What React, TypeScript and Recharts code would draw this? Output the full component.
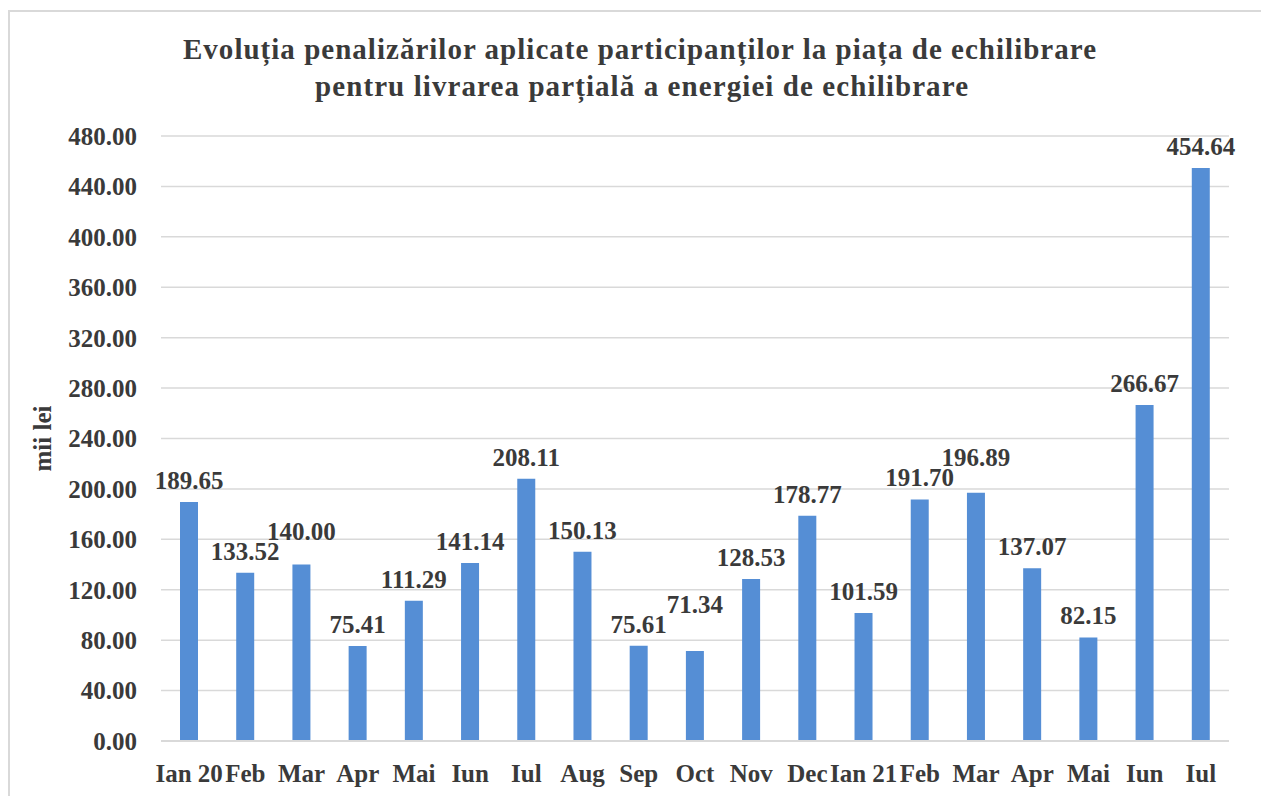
import { BarChart, Bar, XAxis, YAxis, CartesianGrid, LabelList, Label } from 'recharts';

const months = [
  'Ian 20', 'Feb', 'Mar', 'Apr', 'Mai', 'Iun', 'Iul', 'Aug', 'Sep', 'Oct',
  'Nov', 'Dec', 'Ian 21', 'Feb', 'Mar', 'Apr', 'Mai', 'Iun', 'Iul',
];
const penalties = [
  189.65, 133.52, 140.0, 75.41, 111.29, 141.14, 208.11, 150.13, 75.61, 71.34,
  128.53, 178.77, 101.59, 191.7, 196.89, 137.07, 82.15, 266.67, 454.64,
];
const yTicks = [0, 40, 80, 120, 160, 200, 240, 280, 320, 360, 400, 440, 480];
const titleLines = [
  'Evoluția penalizărilor  aplicate participanților  la piața de echilibrare',
  'pentru livrarea parțială  a energiei de echilibrare',
];

const data = months.map((m, i) => ({ key: i, month: m, value: penalties[i] }));

const FONT = '"Liberation Serif", "Times New Roman", serif';
const TEXT = '#3a3a3a';
const LABEL_SIZE = 25;

function YTitle(props: any) {
  const vb = props.viewBox || { y: 0, height: 0 };
  const cy = vb.y + vb.height / 2;
  return (
    <text
      x={42}
      y={cy}
      transform={`rotate(-90, 42, ${cy})`}
      textAnchor="middle"
      dominantBaseline="central"
      fontFamily={FONT}
      fontWeight="bold"
      fontSize={25}
      fill={TEXT}
    >
      mii lei
    </text>
  );
}

// simple collision avoidance: labels are drawn in order, a label that
// would overlap the previous one is pushed up above it (like Excel does)
let placed: { left: number; right: number; top: number; base: number }[] = [];

function ValueLabel(props: any) {
  const { x, y, width, value, index } = props;
  if (index === 0) placed = [];
  const text = Number(value).toFixed(2);
  const cx = Number(x) + Number(width) / 2;
  const w = text.length * 0.47 * LABEL_SIZE;
  let base = Number(y) - 13;
  const prev = placed[index - 1];
  if (prev) {
    const left = cx - w / 2;
    const top = base - 0.68 * LABEL_SIZE;
    if (left < prev.right && base > prev.top && top < prev.base) {
      base = prev.top - 3;
    }
  }
  placed[index] = {
    left: cx - w / 2,
    right: cx + w / 2,
    top: base - 0.68 * LABEL_SIZE,
    base,
  };
  return (
    <text
      x={cx}
      y={base}
      textAnchor="middle"
      fontFamily={FONT}
      fontWeight="bold"
      fontSize={LABEL_SIZE}
      fill={TEXT}
    >
      {text}
    </text>
  );
}

export default function App() {
  return (
    <div
      style={{
        position: 'absolute',
        left: 0,
        top: 0,
        width: 1261,
        height: 796,
        overflow: 'hidden',
        background: '#fff',
      }}
    >
      <div
        style={{
          position: 'absolute',
          left: 8,
          top: 10,
          width: 1300,
          height: 900,
          border: '2px solid #d9d9d9',
        }}
      />
      <svg
        width={1261}
        height={110}
        style={{ position: 'absolute', left: 0, top: 0 }}
      >
        <text
          x={639.5}
          y={59}
          textAnchor="middle"
          textLength={913}
          fontFamily={FONT}
          fontWeight="bold"
          fontSize={29}
          fill={TEXT}
        >
          {titleLines[0]}
        </text>
        <text
          x={641.5}
          y={96}
          textAnchor="middle"
          textLength={653}
          fontFamily={FONT}
          fontWeight="bold"
          fontSize={29}
          fill={TEXT}
        >
          {titleLines[1]}
        </text>
      </svg>
      <div style={{ position: 'absolute', left: 0, top: 0 }}>
        <BarChart
          width={1261}
          height={796}
          data={data}
          margin={{ top: 136, right: 32, bottom: 0, left: 11 }}
          barSize={18}
        >
          <CartesianGrid vertical={false} stroke="#d9d9d9" strokeWidth={1.5} />
          <XAxis
            dataKey="key"
            height={55}
            tickFormatter={(i: number) => months[i]}
            interval={0}
            tickLine={false}
            tickSize={0}
            tickMargin={23}
            axisLine={{ stroke: '#d9d9d9', strokeWidth: 2 }}
            tick={{ fill: TEXT, fontSize: 25, fontFamily: FONT, fontWeight: 'bold' }}
          />
          <YAxis
            width={150}
            domain={[0, 480]}
            ticks={yTicks}
            tickFormatter={(v: number) => v.toFixed(2)}
            axisLine={false}
            tickLine={false}
            tickSize={0}
            tickMargin={24}
            tick={{ fill: TEXT, fontSize: 25, fontFamily: FONT, fontWeight: 'bold' }}
          >
            <Label content={<YTitle />} />
          </YAxis>
          <Bar dataKey="value" fill="#558ed5" isAnimationActive={false}>
            <LabelList dataKey="value" content={<ValueLabel />} />
          </Bar>
        </BarChart>
      </div>
    </div>
  );
}
